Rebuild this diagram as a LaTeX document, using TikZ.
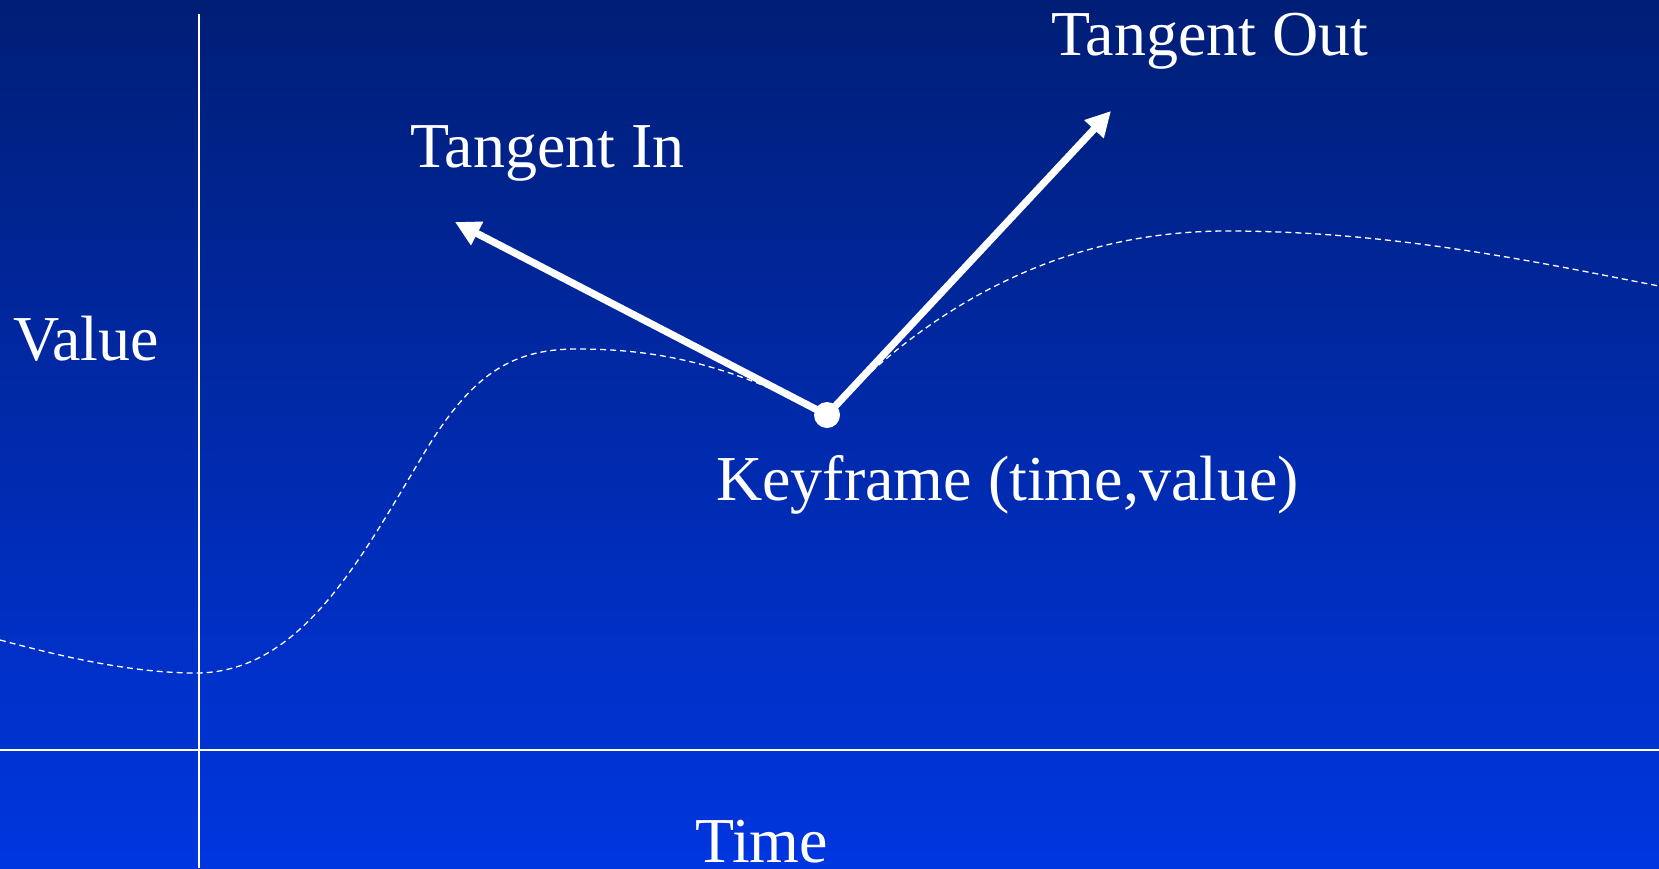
\documentclass[tikz,border=0pt]{standalone}
\usepackage{fontspec}
\setmainfont{Liberation Serif}
\usetikzlibrary{arrows.meta}
\definecolor{bgtop}{RGB}{0,30,118}
\definecolor{bgbot}{RGB}{0,54,224}
\tikzset{
  axis/.style={white, line width=1.6pt},
  curve/.style={white, line width=1.3pt, dash pattern=on 6pt off 4pt},
  tangent/.style={white, line width=7.2pt, -{Triangle[length=25pt,width=25pt]}},
  label/.style={text=white, font=\fontsize{64}{70}\selectfont, inner sep=0pt, anchor=base west},
}
\begin{document}
\begin{tikzpicture}[x=1pt,y=-1pt]
  % background
  \shade[top color=bgtop, bottom color=bgbot] (0,0) rectangle (1659,868);
  \useasboundingbox (0,0) rectangle (1659,868);

  % axes
  \coordinate (vtop) at (199,14);
  \coordinate (vbot) at (199,868);
  \coordinate (hleft) at (0,750);
  \coordinate (hright) at (1659,750);
  \draw[axis] (vtop) -- (vbot);
  \draw[axis] (hleft) -- (hright);

  % animation curve through the keyframe
  \coordinate (key) at (827,415);
  \draw[curve] (0,640) .. controls (60,656) and (130,673) .. (196,673)
    .. controls (300,673) and (360,560) .. (420,460)
    .. controls (470,375) and (510,349) .. (577,349)
    .. controls (660,349) and (730,365) .. (key)
    .. controls (900,337) and (1030,231) .. (1227,231)
    .. controls (1400,231) and (1550,265) .. (1659,286);

  % tangents
  \coordinate (tin) at (455,222);
  \coordinate (tout) at (1111,111);
  \draw[tangent] (key) -- (tin);
  \draw[tangent] (key) -- (tout);
  \fill[white] (key) circle (13);

  % labels
  \node[label] (lout) at (1051,55) {Tangent Out};
  \node[label] (lin) at (410,167) {Tangent In};
  \node[label] (lval) at (13,360) {Value};
  \node[label] (lkey) at (716,500) {Keyframe (time,value)};
  \node[label] (ltime) at (695,862) {Time};
\end{tikzpicture}
\end{document}
